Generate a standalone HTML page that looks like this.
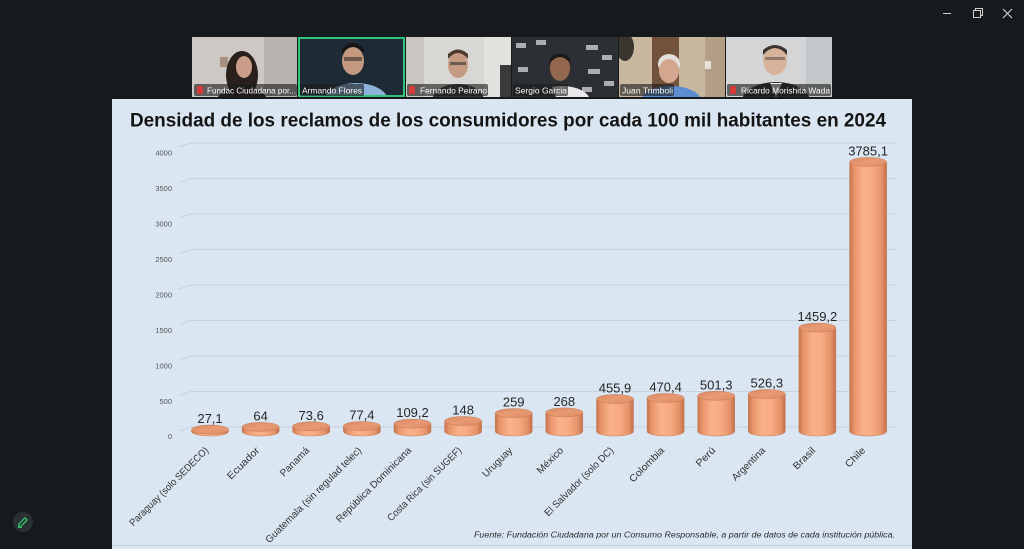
<!DOCTYPE html>
<html>
<head>
<meta charset="utf-8">
<style>
  html,body{margin:0;padding:0;background:#161a1d;}
  body{width:1024px;height:549px;overflow:hidden;}
  svg{display:block;}
  text{font-family:"Liberation Sans",sans-serif;}
</style>
</head>
<body>
<svg width="1024" height="549" viewBox="0 0 1024 549" xmlns="http://www.w3.org/2000/svg">
  <defs>
    <linearGradient id="bar" x1="0" y1="0" x2="1" y2="0">
      <stop offset="0" stop-color="#c6734d"/>
      <stop offset="0.12" stop-color="#e8946a"/>
      <stop offset="0.38" stop-color="#f9b28a"/>
      <stop offset="0.62" stop-color="#f7ab82"/>
      <stop offset="0.86" stop-color="#e6936a"/>
      <stop offset="1" stop-color="#c3714c"/>
    </linearGradient>
    <linearGradient id="topg" x1="0" y1="0" x2="1" y2="1">
      <stop offset="0" stop-color="#d98a63"/>
      <stop offset="0.5" stop-color="#e89a72"/>
      <stop offset="1" stop-color="#dc8d66"/>
    </linearGradient>
  </defs>

  <!-- dark background -->
  <rect x="0" y="0" width="1024" height="549" fill="#161a1d"/>

  <!-- window controls -->
  <line x1="943" y1="13.5" x2="951" y2="13.5" stroke="#cfcfcf" stroke-width="1"/>
  <rect x="973.5" y="10.5" width="7" height="7" fill="none" stroke="#cfcfcf" stroke-width="1"/>
  <path d="M975.5 10.5 V8.5 H982.5 V15.5 H980.5" fill="none" stroke="#cfcfcf" stroke-width="1"/>
  <path d="M1003 9 L1012 18 M1012 9 L1003 18" stroke="#cfcfcf" stroke-width="1.1"/>

  <!-- video tiles -->
  <!-- tile 1 -->
  <svg x="192" y="37" width="105" height="60">
    <rect width="105" height="60" fill="#cdc8c3"/>
    <rect x="72" width="33" height="60" fill="#b7b3ae"/>
    <rect x="28" y="20" width="8" height="10" fill="#a88f80"/>
    <ellipse cx="50" cy="38" rx="16" ry="24" fill="#2a201b"/>
    <ellipse cx="52" cy="30" rx="8" ry="11" fill="#c99d87"/>
    <ellipse cx="50" cy="66" rx="26" ry="16" fill="#241c19"/>
  </svg>
  <!-- tile 2 -->
  <svg x="298" y="37" width="107" height="60">
    <rect width="107" height="60" fill="#1c2632"/>
    <rect width="107" height="60" fill="#26323f" opacity="0.4"/>
    <ellipse cx="58" cy="64" rx="32" ry="18" fill="#8db3da"/>
    <ellipse cx="55" cy="24" rx="11" ry="14" fill="#c39a80"/>
    <path d="M44 16 Q55 4 66 16 L66 12 Q55 0 44 12 Z" fill="#151515"/>
    <rect x="46" y="20" width="18" height="4" fill="#3a302a" opacity="0.6"/>
    <rect x="1" y="1" width="105" height="58" fill="none" stroke="#32c479" stroke-width="2"/>
  </svg>
  <!-- tile 3 -->
  <svg x="406" y="37" width="105" height="60">
    <rect width="105" height="60" fill="#d9d7d3"/>
    <rect x="0" width="18" height="60" fill="#c9c6c1"/>
    <rect x="78" y="0" width="27" height="60" fill="#e4e2de"/>
    <rect x="94" y="28" width="11" height="32" fill="#3a3a3a"/>
    <ellipse cx="52" cy="64" rx="26" ry="17" fill="#353535"/>
    <ellipse cx="52" cy="28" rx="10" ry="13" fill="#c59a82"/>
    <path d="M42 22 Q52 10 62 22 L62 17 Q52 8 42 17 Z" fill="#4a3a30"/>
    <rect x="44" y="25" width="16" height="3" fill="#333" opacity="0.6"/>
  </svg>
  <!-- tile 4 -->
  <svg x="512" y="37" width="106" height="60">
    <rect width="106" height="60" fill="#2c2f34"/>
    <g fill="#d6d8da" opacity="0.75">
      <rect x="4" y="6" width="10" height="5"/><rect x="24" y="3" width="10" height="5"/>
      <rect x="74" y="8" width="12" height="5"/><rect x="90" y="18" width="10" height="5"/>
      <rect x="6" y="30" width="10" height="5"/><rect x="76" y="32" width="12" height="5"/>
      <rect x="92" y="44" width="10" height="5"/><rect x="70" y="50" width="10" height="5"/>
    </g>
    <ellipse cx="50" cy="64" rx="28" ry="15" fill="#e8e8ea"/>
    <path d="M22 60 Q30 48 40 50 L44 60 Z" fill="#2a2a2e"/>
    <ellipse cx="48" cy="31" rx="10" ry="13" fill="#93684f"/>
    <path d="M38 26 Q48 14 58 26 L58 21 Q48 12 38 21 Z" fill="#1c1c1c"/>
  </svg>
  <!-- tile 5 -->
  <svg x="619" y="37" width="106" height="60">
    <rect width="106" height="60" fill="#c8b8a0"/>
    <rect x="33" y="0" width="27" height="60" fill="#72523b"/>
    <rect x="86" y="0" width="20" height="60" fill="#b39f86"/>
    <ellipse cx="6" cy="10" rx="9" ry="14" fill="#3b3530"/>
    <ellipse cx="52" cy="64" rx="30" ry="15" fill="#5a8ed0"/>
    <ellipse cx="50" cy="27" rx="11" ry="10" fill="#e3e0dc"/>
    <ellipse cx="50" cy="34" rx="10" ry="12" fill="#d3a68f"/>
    <rect x="86" y="24" width="6" height="8" fill="#e8e2d8"/>
  </svg>
  <!-- tile 6 -->
  <svg x="726" y="37" width="106" height="60">
    <rect width="106" height="60" fill="#d3d5d7"/>
    <rect x="80" width="26" height="60" fill="#c4c7c9"/>
    <ellipse cx="50" cy="64" rx="34" ry="19" fill="#23262b"/>
    <path d="M44 46 L50 60 L56 46 Z" fill="#eeeeee"/>
    <ellipse cx="49" cy="23" rx="12" ry="15" fill="#d8b39b"/>
    <path d="M37 18 Q49 4 61 18 L61 13 Q49 3 37 13 Z" fill="#3a3330"/>
    <rect x="39" y="20" width="20" height="3" fill="#444" opacity="0.5"/>
  </svg>

  <!-- name labels -->
  <g font-size="8.3" fill="#ffffff">
    <rect x="194" y="84" width="103" height="12" rx="2" fill="#1c1c1c" fill-opacity="0.62"/>
    <rect x="197" y="86" width="6" height="8" rx="1" fill="#d43a3a"/>
    <text x="207" y="93.5" textLength="89" lengthAdjust="spacingAndGlyphs">Fundac Ciudadana por...</text>
    <rect x="300" y="84" width="64" height="12" rx="2" fill="#1c1c1c" fill-opacity="0.62"/>
    <text x="302" y="93.5" textLength="60" lengthAdjust="spacingAndGlyphs">Armando Flores</text>
    <rect x="407" y="84" width="81" height="12" rx="2" fill="#1c1c1c" fill-opacity="0.62"/>
    <rect x="409" y="86" width="6" height="8" rx="1" fill="#d43a3a"/>
    <text x="420" y="93.5" textLength="67" lengthAdjust="spacingAndGlyphs">Fernando Peirano</text>
    <rect x="513" y="84" width="55" height="12" rx="2" fill="#1c1c1c" fill-opacity="0.62"/>
    <text x="515" y="93.5" textLength="52" lengthAdjust="spacingAndGlyphs">Sergio Garcia</text>
    <rect x="620" y="84" width="54" height="12" rx="2" fill="#1c1c1c" fill-opacity="0.62"/>
    <text x="622" y="93.5" textLength="51" lengthAdjust="spacingAndGlyphs">Juan Trimboli</text>
    <rect x="727" y="84" width="104" height="12" rx="2" fill="#1c1c1c" fill-opacity="0.62"/>
    <rect x="730" y="86" width="6" height="8" rx="1" fill="#d43a3a"/>
    <text x="741" y="93.5" textLength="89" lengthAdjust="spacingAndGlyphs">Ricardo Morishita Wada</text>
  </g>

  <!-- slide -->
  <rect x="112" y="99" width="800" height="450" fill="#dae6f2"/>
  <line x1="112" y1="545.5" x2="912" y2="545.5" stroke="#c7d1dc" stroke-width="1"/>

  <!-- title -->
  <text x="130" y="126.5" font-size="19.5" font-weight="bold" fill="#141414" textLength="756" lengthAdjust="spacingAndGlyphs">Densidad de los reclamos de los consumidores por cada 100 mil habitantes en 2024</text>

  <!-- gridlines -->
  <g stroke="#c9d3de" stroke-width="1" fill="none">
    <path d="M179 147 L191 143 H896"/>
    <path d="M179 182.5 L191 178.5 H896"/>
    <path d="M179 218 L191 214 H896"/>
    <path d="M179 253.5 L191 249.5 H896"/>
    <path d="M179 289 L191 285 H896"/>
    <path d="M179 324.5 L191 320.5 H896"/>
    <path d="M179 360 L191 356 H896"/>
    <path d="M179 395.5 L191 391.5 H896"/>
    <path d="M179 431 L191 427 H896"/>
  </g>

  <!-- y labels -->
  <g font-size="7.5" fill="#555" text-anchor="end">
    <text x="172" y="155.5">4000</text>
    <text x="172" y="191">3500</text>
    <text x="172" y="226.5">3000</text>
    <text x="172" y="262">2500</text>
    <text x="172" y="297.5">2000</text>
    <text x="172" y="333">1500</text>
    <text x="172" y="368.5">1000</text>
    <text x="172" y="404">500</text>
    <text x="172" y="439">0</text>
  </g>

  <!-- bars -->
  <g stroke="#c87a55" stroke-width="0.5">
    <path d="M191.5 429.6 V431.5 A18.5 4.5 0 0 0 228.5 431.5 V429.6 Z" fill="url(#bar)"/>
    <ellipse cx="210" cy="429.6" rx="18.5" ry="4.5" fill="url(#topg)"/>

    <path d="M242.1 426.9 V431.5 A18.5 4.5 0 0 0 279.1 431.5 V426.9 Z" fill="url(#bar)"/>
    <ellipse cx="260.6" cy="426.9" rx="18.5" ry="4.5" fill="url(#topg)"/>

    <path d="M292.7 426.3 V431.5 A18.5 4.5 0 0 0 329.7 431.5 V426.3 Z" fill="url(#bar)"/>
    <ellipse cx="311.2" cy="426.3" rx="18.5" ry="4.5" fill="url(#topg)"/>

    <path d="M343.4 426 V431.5 A18.5 4.5 0 0 0 380.4 431.5 V426 Z" fill="url(#bar)"/>
    <ellipse cx="361.9" cy="426" rx="18.5" ry="4.5" fill="url(#topg)"/>

    <path d="M394 423.7 V431.5 A18.5 4.5 0 0 0 431 431.5 V423.7 Z" fill="url(#bar)"/>
    <ellipse cx="412.5" cy="423.7" rx="18.5" ry="4.5" fill="url(#topg)"/>

    <path d="M444.6 421 V431.5 A18.5 4.5 0 0 0 481.6 431.5 V421 Z" fill="url(#bar)"/>
    <ellipse cx="463.1" cy="421" rx="18.5" ry="4.5" fill="url(#topg)"/>

    <path d="M495.2 413.1 V431.5 A18.5 4.5 0 0 0 532.2 431.5 V413.1 Z" fill="url(#bar)"/>
    <ellipse cx="513.7" cy="413.1" rx="18.5" ry="4.5" fill="url(#topg)"/>

    <path d="M545.8 412.4 V431.5 A18.5 4.5 0 0 0 582.8 431.5 V412.4 Z" fill="url(#bar)"/>
    <ellipse cx="564.3" cy="412.4" rx="18.5" ry="4.5" fill="url(#topg)"/>

    <path d="M596.5 399 V431.5 A18.5 4.5 0 0 0 633.5 431.5 V399 Z" fill="url(#bar)"/>
    <ellipse cx="615" cy="399" rx="18.5" ry="4.5" fill="url(#topg)"/>

    <path d="M647.1 398 V431.5 A18.5 4.5 0 0 0 684.1 431.5 V398 Z" fill="url(#bar)"/>
    <ellipse cx="665.6" cy="398" rx="18.5" ry="4.5" fill="url(#topg)"/>

    <path d="M697.7 395.8 V431.5 A18.5 4.5 0 0 0 734.7 431.5 V395.8 Z" fill="url(#bar)"/>
    <ellipse cx="716.2" cy="395.8" rx="18.5" ry="4.5" fill="url(#topg)"/>

    <path d="M748.3 394 V431.5 A18.5 4.5 0 0 0 785.3 431.5 V394 Z" fill="url(#bar)"/>
    <ellipse cx="766.8" cy="394" rx="18.5" ry="4.5" fill="url(#topg)"/>

    <path d="M798.9 327.6 V431.5 A18.5 4.5 0 0 0 835.9 431.5 V327.6 Z" fill="url(#bar)"/>
    <ellipse cx="817.4" cy="327.6" rx="18.5" ry="4.5" fill="url(#topg)"/>

    <path d="M849.6 162 V431.5 A18.5 4.5 0 0 0 886.6 431.5 V162 Z" fill="url(#bar)"/>
    <ellipse cx="868.1" cy="162" rx="18.5" ry="4.5" fill="url(#topg)"/>
  </g>

  <!-- value labels -->
  <g font-size="13" fill="#262626" text-anchor="middle">
    <text x="210" y="423">27,1</text>
    <text x="260.6" y="420.4">64</text>
    <text x="311.2" y="419.8">73,6</text>
    <text x="361.9" y="419.5">77,4</text>
    <text x="412.5" y="417.2">109,2</text>
    <text x="463.1" y="414.5">148</text>
    <text x="513.7" y="406.6">259</text>
    <text x="564.3" y="405.9">268</text>
    <text x="615" y="392.5">455,9</text>
    <text x="665.6" y="391.5">470,4</text>
    <text x="716.2" y="389.3">501,3</text>
    <text x="766.8" y="387.5">526,3</text>
    <text x="817.4" y="321.1">1459,2</text>
    <text x="868.1" y="155.5">3785,1</text>
  </g>

  <!-- category labels -->
  <g font-size="10" fill="#333" text-anchor="end">
    <text transform="translate(209,451) rotate(-45)" textLength="107" lengthAdjust="spacingAndGlyphs">Paraguay (solo SEDECO)</text>
    <text transform="translate(260,451) rotate(-45)" textLength="41" lengthAdjust="spacingAndGlyphs">Ecuador</text>
    <text transform="translate(310,451) rotate(-45)" textLength="37" lengthAdjust="spacingAndGlyphs">Panamá</text>
    <text transform="translate(362,451) rotate(-45)" textLength="131" lengthAdjust="spacingAndGlyphs">Guatemala (sin regulad telec)</text>
    <text transform="translate(412,451) rotate(-45)" textLength="102" lengthAdjust="spacingAndGlyphs">República Dominicana</text>
    <text transform="translate(462,451) rotate(-45)" textLength="100" lengthAdjust="spacingAndGlyphs">Costa Rica (sin SUGEF)</text>
    <text transform="translate(513,451) rotate(-45)" textLength="38" lengthAdjust="spacingAndGlyphs">Uruguay</text>
    <text transform="translate(564,451) rotate(-45)" textLength="33" lengthAdjust="spacingAndGlyphs">México</text>
    <text transform="translate(614,451) rotate(-45)" textLength="93" lengthAdjust="spacingAndGlyphs">El Salvador (solo DC)</text>
    <text transform="translate(665,451) rotate(-45)" textLength="45" lengthAdjust="spacingAndGlyphs">Colombia</text>
    <text transform="translate(716,451) rotate(-45)" textLength="23" lengthAdjust="spacingAndGlyphs">Perú</text>
    <text transform="translate(766,451) rotate(-45)" textLength="43" lengthAdjust="spacingAndGlyphs">Argentina</text>
    <text transform="translate(816,451) rotate(-45)" textLength="27" lengthAdjust="spacingAndGlyphs">Brasil</text>
    <text transform="translate(866,451) rotate(-45)" textLength="24" lengthAdjust="spacingAndGlyphs">Chile</text>
  </g>

  <!-- footnote -->
  <text x="474" y="537.5" font-size="8.5" font-style="italic" fill="#2a2a2a" textLength="421" lengthAdjust="spacingAndGlyphs">Fuente: Fundación Ciudadana por un Consumo Responsable, a partir de datos de cada institución pública.</text>

  <!-- bottom-left pencil button -->
  <circle cx="23" cy="522" r="10" fill="#2a2f31"/>
  <path d="M18.5 526.5 L19.2 523.6 L25 517.8 L27.2 520 L21.4 525.8 Z" fill="none" stroke="#2fbf71" stroke-width="1.3" stroke-linejoin="round"/>
  <line x1="18" y1="527.5" x2="22" y2="527.5" stroke="#2fbf71" stroke-width="1"/>
</svg>
</body>
</html>
